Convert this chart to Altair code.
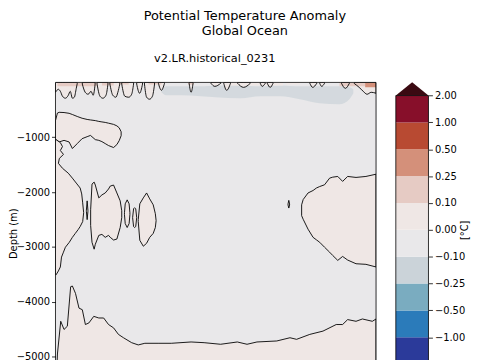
import json
import altair as alt
import pandas as pd

FONT = "DejaVu Sans"

# ---- colour levels (degC) and colours (below -2 ... above 2)
LEVELS = [-2.0, -1.0, -0.5, -0.25, -0.1, 0.0, 0.1, 0.25, 0.5, 1.0, 2.0]
COLORS = ["#1b2466", "#2b3a9a", "#2b7bba", "#7aacc0", "#cbd3d9", "#e9e8ea",
          "#efe7e5", "#e6cbc4", "#d4907a", "#b84a32", "#870f2a", "#3b0a12"]

# ---- positive (0 .. 0.1) regions in the deep ocean: year, upper and lower depth (m)
A_YEAR = [1850.0, 1851.0, 1851.9, 1854.4, 1857.0, 1858.7, 1861.2, 1863.7, 1866.3, 1868.0,
          1870.5, 1872.3, 1873.9, 1875.6, 1877.3, 1879.9, 1881.6, 1882.8, 1883.8]
A_TOP = [-696, -558, -545, -549, -563, -585, -621, -653, -675, -684,
         -696, -711, -720, -729, -743, -765, -792, -828, -900]
A_BOT = [-1043, -1061, -1085, -1056, -1085, -1205, -1115, -1025, -989, -966,
         -1043, -1056, -1079, -1115, -1151, -1187, -1133, -1061, -971]

C_YEAR = [1868.1, 1868.8, 1869.9, 1870.5, 1872.3, 1873.9, 1875.6, 1877.3, 1878.2, 1879.9,
          1881.6, 1883.3, 1884.1]
C_TOP = [-2321, -1853, -1817, -1871, -2105, -2051, -2015, -1943, -1889, -1871, -2015, -2159, -2339]
C_BOT = [-2608, -2914, -3040, -2950, -2788, -2770, -2824, -2788, -2824, -2873, -2855, -2645, -2465]

S_YEAR = [1865.9, 1866.3, 1866.7]
S_TOP = [-2330, -2159, -2330]
S_BOT = [-2350, -2501, -2350]

D1_YEAR = [1885.5, 1885.9, 1886.9, 1887.9, 1888.3]
D1_TOP = [-2375, -2213, -2141, -2213, -2375]
D1_BOT = [-2411, -2573, -2645, -2573, -2411]

D2_YEAR = [1889.7, 1890.2, 1890.7, 1891.3, 1891.8]
D2_TOP = [-2465, -2303, -2285, -2303, -2465]
D2_BOT = [-2465, -2627, -2645, -2627, -2465]

E_YEAR = [1892.6, 1893.4, 1895.2, 1896.9, 1898.5, 1900.3, 1901.4, 1901.8]
E_TOP = [-2501, -2213, -2105, -2015, -2123, -2231, -2393, -2519]
E_BOT = [-2537, -2878, -2986, -2932, -2824, -2752, -2645, -2519]

T_YEAR = [1969.7, 1970.1, 1970.5]
T_TOP = [-2215, -2150, -2215]
T_BOT = [-2235, -2290, -2235]

F_YEAR = [1976.7, 1977.5, 1980.0, 1982.6, 1984.3, 1986.0, 1988.5, 1991.1, 1992.7, 1995.3,
          1997.8, 2000.4, 2004.7, 2009.8, 2015.0]
F_TOP = [-2231, -2135, -2015, -1970, -1925, -1898, -1866, -1745, -1727, -1714,
         -1804, -1714, -1732, -1714, -1673]
F_BOT = [-2429, -2495, -2675, -2824, -2869, -2914, -3004, -3094, -3154, -3244,
         -3172, -3238, -3305, -3316, -3364]

G_YEAR = [1850.4, 1851.0, 1852.7, 1854.4, 1856.1, 1857.8, 1858.7, 1860.3, 1862.1, 1863.8,
          1865.4, 1867.2, 1869.7, 1872.3, 1874.8, 1877.3, 1879.9, 1882.4, 1885.0, 1889.2,
          1892.6, 1896.0, 1902.8, 1909.6, 1919.8, 1926.5, 1935.0, 1943.6, 1948.6, 1953.7,
          1963.9, 1970.7, 1974.1, 1980.9, 1987.7, 1994.5, 1997.8, 2000.4, 2004.7, 2008.0,
          2013.1, 2015.0]
G_TOP = [-5500, -4950, -4354, -4503, -4444, -3724, -3711, -3845, -4114, -4143,
         -4413, -4384, -4264, -4294, -4294, -4413, -4474, -4593, -4654, -4744,
         -4785, -4755, -4755, -4755, -4731, -4744, -4773, -4731, -4773, -4731,
         -4713, -4654, -4683, -4593, -4533, -4413, -4413, -4323, -4354, -4312,
         -4354, -4312]

# left-edge region: right boundary (year) as a function of depth
B_DEPTH = [-1043, -1097, -1169, -1241, -1313, -1385, -1475, -1565, -1655, -1745,
           -1835, -1925, -2033, -2195, -2375, -2537, -2627, -2681, -2752, -2824,
           -2914, -3004, -3094, -3184, -3274, -3364, -3436, -3508]
B_RIGHT = [1850.3, 1852.5, 1853.6, 1852.5, 1854.1, 1852.0, 1851.5, 1853.6, 1856.6, 1858.7,
           1860.7, 1862.7, 1863.5, 1864.0, 1864.5, 1864.0, 1862.7, 1861.7, 1860.2, 1858.7,
           1857.1, 1855.1, 1854.1, 1853.1, 1852.8, 1852.5, 1851.5, 1850.3]

# ---- near-surface positive lobes hanging from the surface: id, year, lower depth
SL_ID = ([2] * 11 + [3] * 6 + [4] * 5 + [5] * 5 + [6] * 5 + [7] * 3 + [8] * 5 + [9] * 3
         + [10] * 3 + [11] * 3 + [12] * 3 + [13] * 3 + [14] * 3 + [15] * 3 + [16] * 3
         + [17] * 3 + [18] * 3 + [19] * 6)
SL_YEAR = [1850.0, 1851.5, 1852.5, 1853.6, 1855.1, 1856.6, 1857.6, 1858.7, 1859.7, 1860.7, 1861.2,
           1863.8, 1865.3, 1866.8, 1868.3, 1869.4, 1870.4,
           1871.4, 1872.9, 1874.4, 1876.0, 1877.0,
           1878.0, 1879.5, 1881.1, 1882.1, 1883.1,
           1884.1, 1885.7, 1887.7, 1889.2, 1890.2,
           1891.8, 1893.3, 1894.8,
           1895.8, 1896.9, 1898.4, 1899.9, 1901.0,
           1903.0, 1904.5, 1906.1,
           1918.8, 1919.8, 1920.8,
           1930.0, 1932.0, 1935.1,
           1936.6, 1938.1, 1940.1,
           1943.7, 1946.8, 1950.3,
           1955.4, 1956.4, 1958.0,
           1959.0, 1960.5, 1962.0,
           1980.9, 1982.4, 1984.5,
           1986.0, 1987.0, 1988.5,
           1997.2, 1999.2, 2001.3,
           2003.8, 2006.3, 2008.4, 2010.4, 2012.5, 2015.0]
SL_BOT = [-180, -126, -162, -252, -288, -234, -162, -288, -270, -108, -20,
          -30, -180, -216, -162, -234, -30,
          -30, -252, -288, -234, -30,
          -30, -234, -270, -180, -30,
          -30, -252, -270, -216, -30,
          -30, -198, -30,
          -30, -270, -306, -252, -30,
          -20, -144, -20,
          -20, -180, -20,
          -15, -72, -15,
          -15, -144, -15,
          -15, -90, -15,
          -15, -72, -15,
          -15, -90, -15,
          -15, -90, -15,
          -15, -72, -15,
          -15, -108, -15,
          -20, -90, -162, -216, -180, -198]

# ---- stronger near-surface anomaly patches
CELL_Y0 = [1851.0, 1873.9, 1882.6, 1897.9, 1918.2, 1938.6, 1968.7, 1996.2, 2001.3, 2009.4]
CELL_Y1 = [1871.4, 1880.0, 1887.7, 1904.5, 1921.3, 1967.1, 1975.8, 2001.3, 2009.4, 2015.0]
CELL_TOP = [0, 0, 0, 0, 0, 0, 0, 0, 0, 0]
CELL_BOT = [-72, -54, -40, -40, -40, -54, -40, -72, -72, -90]
CELL_VAL = [0.15, 0.15, 0.15, 0.15, 0.15, 0.05, 0.05, 0.15, 0.2, 0.35]

# ---- cool sub-surface patch (-0.25 .. -0.1)
BLUE_YEAR = [1904.5, 1907.0, 1914.7, 1924.9, 1932.5, 1945.2, 1955.4, 1965.6, 1975.8, 1986.0,
             1996.2, 2001.3, 2003.3]
BLUE_TOP = [-108, -72, -72, -72, -54, -54, -72, -54, -72, -72, -72, -90, -126]
BLUE_BOT = [-180, -234, -234, -252, -270, -288, -252, -252, -306, -378, -396, -306, -198]

# ---------------------------------------------------------------- build tables
regions = [("A", A_YEAR, A_TOP, A_BOT), ("C", C_YEAR, C_TOP, C_BOT), ("S", S_YEAR, S_TOP, S_BOT),
           ("D1", D1_YEAR, D1_TOP, D1_BOT), ("D2", D2_YEAR, D2_TOP, D2_BOT),
           ("E", E_YEAR, E_TOP, E_BOT), ("T", T_YEAR, T_TOP, T_BOT), ("F", F_YEAR, F_TOP, F_BOT),
           ("G", G_YEAR, G_TOP, [-5500] * len(G_YEAR))]
rows = []
for rid, yy, tt, bb in regions:
    for y, t, b in zip(yy, tt, bb):
        rows.append({"id": rid, "year": y, "top": t, "bot": b, "val": 0.05})
deep_df = pd.DataFrame(rows)

b_df = pd.DataFrame({"depth": B_DEPTH, "x0": [1850.0] * len(B_DEPTH), "x1": B_RIGHT,
                     "val": [0.05] * len(B_DEPTH)})
sl_df = pd.DataFrame({"id": SL_ID, "year": SL_YEAR, "top": [0] * len(SL_ID), "bot": SL_BOT,
                      "val": [0.05] * len(SL_ID)})
cell_df = pd.DataFrame({"x0": CELL_Y0, "x1": CELL_Y1, "top": CELL_TOP, "bot": CELL_BOT,
                        "val": CELL_VAL})
blue_df = pd.DataFrame({"year": BLUE_YEAR, "top": BLUE_TOP, "bot": BLUE_BOT,
                        "val": [-0.15] * len(BLUE_YEAR)})
frame_df = pd.DataFrame({"x0": [1850.0], "x1": [2015.0], "top": [0], "bot": [-5500]})

cscale = alt.Scale(type="threshold", domain=LEVELS, range=COLORS)
xs = alt.Scale(domain=[1850, 2015], nice=False, zero=False)
ys = alt.Scale(domain=[-5500, 0], nice=False, zero=False)
col = alt.Color("val:Q", scale=cscale, legend=None)

YAX = alt.Axis(values=[-1000, -2000, -3000, -4000, -5000], format="d", title="Depth (m)",
               tickSize=4, labelPadding=2, titlePadding=-2, domain=False, grid=False)
XAX = alt.Axis(format="d", title="Year", tickSize=5, grid=False, domain=False)


def X(field):
    return alt.X(field, scale=xs, axis=XAX, title="Year")


def Y(field):
    return alt.Y(field, scale=ys, axis=YAX, title="Depth (m)")


blue = alt.Chart(blue_df).mark_area(interpolate="monotone", opacity=0.7, clip=True).encode(
    x=X("year:Q"), y=Y("top:Q"), y2="bot:Q", color=col)

deep = alt.Chart(deep_df).mark_area(interpolate="linear", stroke="black", strokeWidth=0.9,
                                    clip=True).encode(
    x=X("year:Q"), y=Y("top:Q"), y2="bot:Q", detail="id:N", color=col)

left = alt.Chart(b_df).mark_area(orient="horizontal", interpolate="linear", stroke="black",
                                 strokeWidth=0.9, clip=True).encode(
    y=Y("depth:Q"), x=X("x0:Q"), x2="x1:Q", color=col)

lobes_fill = alt.Chart(sl_df).mark_area(interpolate="monotone", clip=True).encode(
    x=X("year:Q"), y=Y("top:Q"), y2="bot:Q", detail="id:N", color=col)

cells = alt.Chart(cell_df).mark_rect(clip=True).encode(
    x=X("x0:Q"), x2="x1:Q", y=Y("top:Q"), y2="bot:Q", color=col)

lobes_line = alt.Chart(sl_df).mark_area(interpolate="monotone", fillOpacity=0, stroke="black",
                                        strokeWidth=0.9, clip=True).encode(
    x=X("year:Q"), y=Y("top:Q"), y2="bot:Q", detail="id:N")

frame = alt.Chart(frame_df).mark_rect(filled=False, stroke="black", strokeWidth=0.8).encode(
    x=X("x0:Q"), x2="x1:Q", y=Y("top:Q"), y2="bot:Q")

main = alt.layer(blue, deep, left, lobes_fill, cells, lobes_line, frame).properties(
    width=324, height=305,
    title=alt.TitleParams("v2.LR.historical_0231", fontSize=11.5, fontWeight="normal",
                          font=FONT, anchor="middle", frame="group", offset=18, dx=-1),
    view=alt.ViewBackground(fill="#e9e8ea", strokeOpacity=0))

# ---------------------------------------------------------------- colour bar
mids = [(LEVELS[i] + LEVELS[i + 1]) / 2 for i in range(len(LEVELS) - 1)]
n = len(mids)
cb_df = pd.DataFrame({"i0": list(range(n)), "i1": list(range(1, n + 1)),
                      "x0": [0] * n, "x1": [1] * n, "val": mids})
arrow_df = pd.DataFrame({"x": [0.5, 0.5], "i0": [n, 0],
                         "val": [LEVELS[-1] + 0.5, LEVELS[0] - 0.5], "dir": ["up", "down"]})
outline_df = pd.DataFrame({"x0": [0], "x1": [1], "i0": [0], "i1": [n]})

cys = alt.Scale(domain=[-0.49, n + 0.49], nice=False, zero=False)
cxs = alt.Scale(domain=[0, 1], nice=False, zero=False)
label_expr = "format(" + json.dumps(LEVELS) + "[datum.value], '.2f')"
CAX = alt.Axis(orient="right", values=list(range(n + 1)), labelExpr=label_expr,
               title="[°C]", titleAngle=270, titlePadding=5, tickSize=4, labelPadding=2,
               domain=False, grid=False)


def CY(field):
    return alt.Y(field, scale=cys, axis=CAX, title="[°C]")


bands = alt.Chart(cb_df).mark_rect().encode(
    x=alt.X("x0:Q", scale=cxs, axis=None), x2="x1:Q",
    y=CY("i0:Q"), y2="i1:Q", color=col)
arrows = alt.Chart(arrow_df).mark_point(filled=True, size=1089, opacity=1).encode(
    x=alt.X("x:Q", scale=cxs, axis=None), y=CY("i0:Q"),
    color=col,
    shape=alt.Shape("dir:N", legend=None,
                    scale=alt.Scale(domain=["up", "down"],
                                    range=["M-1,0L1,0L0,-0.82Z", "M-1,0L1,0L0,0.82Z"])))
outline = alt.Chart(outline_df).mark_rect(filled=False, stroke="black", strokeWidth=0.8).encode(
    x=alt.X("x0:Q", scale=cxs, axis=None), x2="x1:Q",
    y=CY("i0:Q"), y2="i1:Q")

cbar = alt.layer(bands, arrows, outline).properties(
    width=33, height=298, view=alt.ViewBackground(strokeOpacity=0))

chart = alt.hconcat(main, cbar, spacing=20, bounds="flush").properties(
    title=alt.TitleParams(["Potential Temperature Anomaly", "Global Ocean"], fontSize=13,
                          fontWeight="normal", font=FONT, anchor="middle", lineHeight=15,
                          offset=15, dx=6),
    padding={"left": 0, "top": 0, "right": 2, "bottom": 2},
).configure(font=FONT).configure_axis(
    labelFont=FONT, titleFont=FONT, labelFontSize=10, titleFontSize=10,
    titleFontWeight="normal", labelColor="black", titleColor="black", tickColor="black",
    tickWidth=0.8,
)

chart.save("out.html", embed_options={"renderer": "svg", "actions": False})
